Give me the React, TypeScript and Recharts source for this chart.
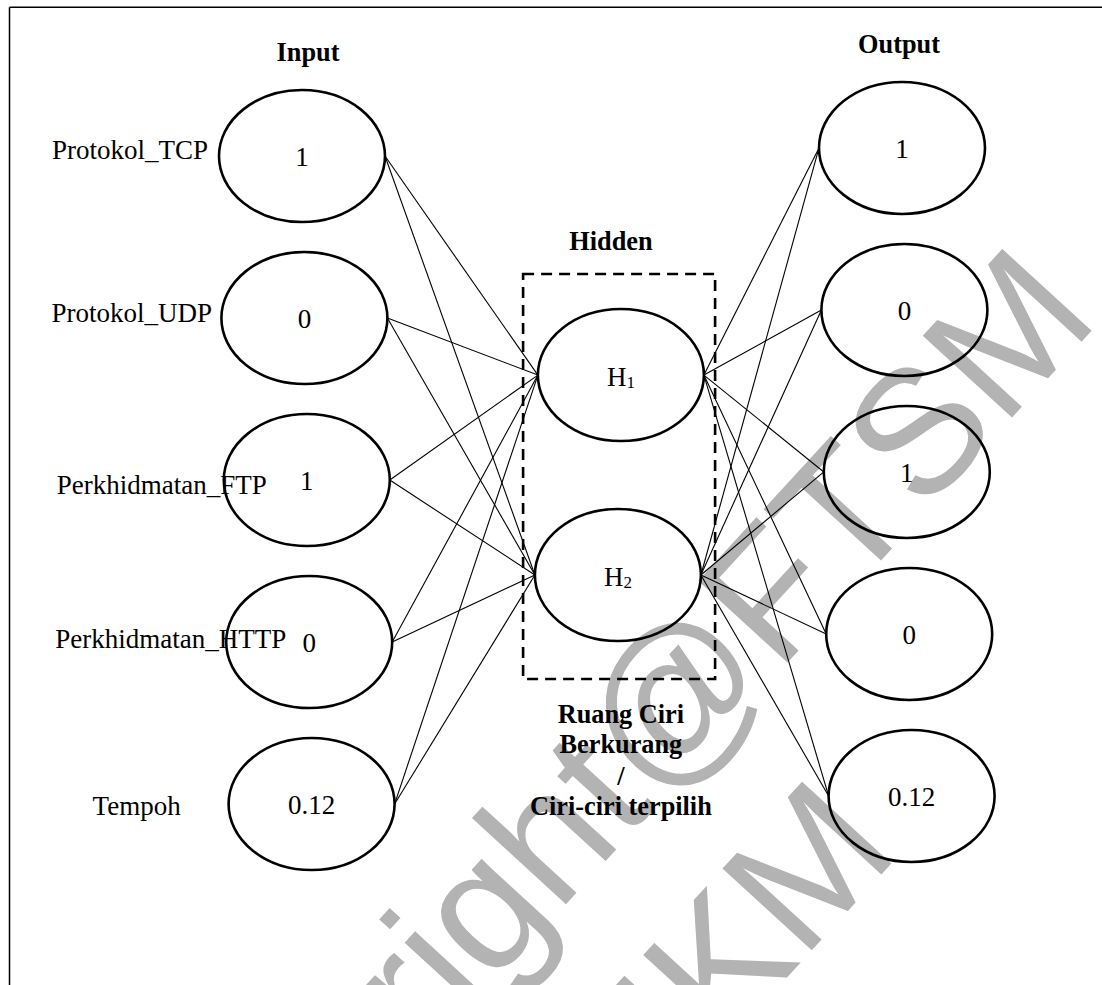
import React from 'react';
import { ScatterChart, Scatter, XAxis, YAxis, ReferenceLine, ReferenceArea } from 'recharts';

// ---------- data ----------
const INPUT_FEATURES = ['Protokol_TCP', 'Protokol_UDP', 'Perkhidmatan_FTP', 'Perkhidmatan_HTTP', 'Tempoh'];
const INPUT_VALUES = [1, 0, 1, 0, 0.12];
const HIDDEN_UNITS = ['1', '2'];
const OUTPUT_VALUES = [1, 0, 1, 0, 0.12];
const LAYER_TITLES = ['Input', 'Hidden', 'Output'];
const BOTTLENECK_CAPTION = ['Ruang Ciri', 'Berkurang', '/', 'Ciri-ciri terpilih'];
const WATERMARK_LINES = ['Copyright@FTSM', 'UKM'];

// ---------- layout / style ----------
const W = 1102;
const H = 985;
const PX_PER_COL = 300;
const PX_PER_ROW = 162;
const X_ORIGIN = 302;
const Y_ORIGIN = 152;
const X_DOMAIN: [number, number] = [-X_ORIGIN / PX_PER_COL, (W - X_ORIGIN) / PX_PER_COL];
const Y_DOMAIN: [number, number] = [-Y_ORIGIN / PX_PER_ROW, (H - Y_ORIGIN) / PX_PER_ROW];
const RX = 83;
const RY = 66;
const RX_COL = RX / PX_PER_COL;
const ROW_SKEW = 0.008;
const INPUT_COL = 0;
const OUTPUT_COL = 2;
const INPUT_ROW_SHIFT = 0.025;
const OUTPUT_ROW_SHIFT = -0.025;
const HIDDEN_POS = [
  { col: 1.063, row: 1.377 },
  { col: 1.053, row: 2.611 },
];
const LABEL_DX = [-250, -253, -250, -254, -219];
const LABEL_DY = [3, 4, 14, 6, 11];
const TITLE_POS = [
  { col: 0.02, row: -0.562 },
  { col: 1.03, row: 0.605 },
  { col: 1.99, row: -0.611 },
];
const CAPTION_COL = 1.063;
const CAPTION_ROWS = [3.525, 3.71, 3.907, 4.093];
const BOX = { x1: 0.737, x2: 1.377, y1: 0.753, y2: 3.253 };
const WM_POS = [
  { x: 624.7, y: 840.3 },
  { x: 769, y: 997 },
];
const WM_ANGLE = -47.5;

const SERIF = '"Liberation Serif", "Times New Roman", Times, serif';
const SANS = '"Liberation Sans", Arial, Helvetica, sans-serif';
const FS = 27;
const FS_BOLD = 26.3;

const fmt = (v: number) => String(v);

const inputNodes = INPUT_VALUES.map((v, i) => ({
  x: INPUT_COL + ROW_SKEW * i,
  y: i + INPUT_ROW_SHIFT,
  value: v,
  feature: INPUT_FEATURES[i],
  idx: i,
  layer: 'input',
}));
const hiddenNodes = HIDDEN_UNITS.map((u, j) => ({
  x: HIDDEN_POS[j].col,
  y: HIDDEN_POS[j].row,
  unit: u,
  idx: j,
  layer: 'hidden',
}));
const outputNodes = OUTPUT_VALUES.map((v, i) => ({
  x: OUTPUT_COL + ROW_SKEW * i,
  y: i + OUTPUT_ROW_SHIFT,
  value: v,
  idx: i,
  layer: 'output',
}));

const edges: { a: { x: number; y: number }; b: { x: number; y: number } }[] = [];
inputNodes.forEach((s) =>
  hiddenNodes.forEach((t) => edges.push({ a: { x: s.x + RX_COL, y: s.y }, b: { x: t.x - RX_COL, y: t.y } }))
);
hiddenNodes.forEach((s) =>
  outputNodes.forEach((t) => edges.push({ a: { x: s.x + RX_COL, y: s.y }, b: { x: t.x - RX_COL, y: t.y } }))
);

const annotations = [
  ...LAYER_TITLES.map((t, i) => ({ x: TITLE_POS[i].col, y: TITLE_POS[i].row, text: t })),
  ...BOTTLENECK_CAPTION.map((t, i) => ({ x: CAPTION_COL, y: CAPTION_ROWS[i], text: t })),
];

const NodeShape = (props: any) => {
  const { cx, cy, payload } = props;
  if (cx == null || cy == null) return null;
  return (
    <g>
      <ellipse cx={cx} cy={cy} rx={RX} ry={RY} fill="none" stroke="#000" strokeWidth={2.6} />
      {payload.layer === 'hidden' ? (
        <text x={cx} y={cy + 11} textAnchor="middle" fontFamily={SERIF} fontSize={FS} fill="#000">
          H
          <tspan fontSize={17} dy={2}>
            {payload.unit}
          </tspan>
        </text>
      ) : (
        <text x={cx} y={cy + 10} textAnchor="middle" fontFamily={SERIF} fontSize={FS} fill="#000">
          {fmt(payload.value)}
        </text>
      )}
      {payload.layer === 'input' && (
        <text
          x={cx + LABEL_DX[payload.idx]}
          y={cy + LABEL_DY[payload.idx]}
          textAnchor="start"
          fontFamily={SERIF}
          fontSize={FS}
          fill="#000"
        >
          {payload.feature}
        </text>
      )}
    </g>
  );
};

const AnnotationShape = (props: any) => {
  const { cx, cy, payload } = props;
  if (cx == null || cy == null) return null;
  return (
    <text x={cx} y={cy} textAnchor="middle" fontFamily={SERIF} fontSize={FS_BOLD} fontWeight="bold" fill="#000">
      {payload.text}
    </text>
  );
};

const Watermark = () => (
  <svg width={W} height={H} style={{ position: 'absolute', left: 0, top: 0 }}>
    <rect x={0} y={0} width={W} height={H} fill="#fff" />
    <line x1={9.5} y1={7.3} x2={W} y2={7.3} stroke="#000" strokeWidth={1.5} />
    <line x1={9.5} y1={7.3} x2={9.5} y2={H} stroke="#000" strokeWidth={1.5} />
    <g fill="#b3b3b3" fontFamily={SANS} fontSize={176}>
      {WATERMARK_LINES.map((t, i) => (
        <text
          key={t}
          transform={`translate(${WM_POS[i].x} ${WM_POS[i].y}) rotate(${WM_ANGLE})`}
          textAnchor="middle"
        >
          {t}
        </text>
      ))}
    </g>
  </svg>
);

export default function App() {
  return (
    <div style={{ position: 'absolute', left: 0, top: 0, width: W, height: H, background: '#fff' }}>
      <Watermark />
      <div style={{ position: 'absolute', left: 0, top: 0 }}>
        <ScatterChart width={W} height={H} margin={{ top: 0, right: 0, bottom: 0, left: 0 }}>
          <XAxis type="number" dataKey="x" domain={X_DOMAIN} allowDataOverflow hide />
          <YAxis type="number" dataKey="y" domain={Y_DOMAIN} allowDataOverflow reversed hide />
          <ReferenceArea
            x1={BOX.x1}
            x2={BOX.x2}
            y1={BOX.y1}
            y2={BOX.y2}
            fill="none"
            fillOpacity={0}
            stroke="#000"
            strokeWidth={2.6}
            strokeDasharray="11 7"
            ifOverflow="visible"
          />
          {edges.map((e, i) => (
            <ReferenceLine
              key={'e' + i}
              segment={[e.a, e.b]}
              stroke="#000"
              strokeWidth={1.1}
              ifOverflow="visible"
            />
          ))}
          <Scatter data={inputNodes} shape={NodeShape} isAnimationActive={false} />
          <Scatter data={hiddenNodes} shape={NodeShape} isAnimationActive={false} />
          <Scatter data={outputNodes} shape={NodeShape} isAnimationActive={false} />
          <Scatter data={annotations} shape={AnnotationShape} isAnimationActive={false} />
        </ScatterChart>
      </div>
    </div>
  );
}
